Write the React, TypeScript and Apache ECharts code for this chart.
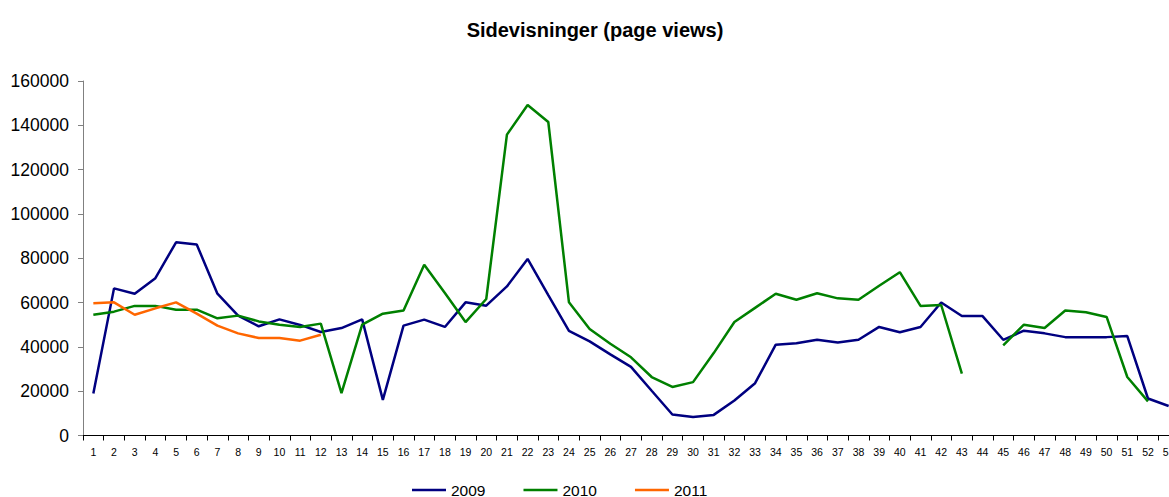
import React, { useEffect, useRef } from "react";
import * as echarts from "echarts";

const weeks = [
  "1","2","3","4","5","6","7","8","9","10","11","12","13","14","15","16","17","18","19","20",
  "21","22","23","24","25","26","27","28","29","30","31","32","33","34","35","36","37","38","39","40",
  "41","42","43","44","45","46","47","48","49","50","51","52","53",
];

const views2009 = [
  19000, 66400, 64000, 71000, 87200, 86200, 64000, 54100, 49300, 52400,
  49900, 46700, 48500, 52400, 16100, 49600, 52300, 49000, 60100, 58600,
  67300, 79700, 63400, 47200, 42500, 36600, 31000, 20200, 9500, 8300,
  9300, 15800, 23600, 41000, 41600, 43200, 42000, 43200, 49000, 46600,
  49000, 60000, 53900, 53900, 43200, 47300, 46100, 44400, 44400, 44400,
  44900, 16700, 13300,
];

const views2010 = [
  54500, 55900, 58500, 58500, 56800, 56800, 52900, 54100, 51500, 50000,
  49000, 50500, 19100, 50000, 55000, 56400, 77100, 64300, 51200, 61600,
  135800, 149200, 141500, 60100, 48100, 41400, 35300, 26400, 21900, 24100,
  37200, 51200, 57600, 64000, 61300, 64200, 61900, 61300, 67600, 73700,
  58500, 58900, 27900, null, 40700, 50000, 48500, 56400, 55600, 53500,
  26400, 15400, null,
];

const views2011 = [
  59700, 60100, 54500, 57400, 60100, 55000, 49600, 46100, 44000, 44000,
  42800, 45500,
];

const seriesNames = ["2009", "2010", "2011"];
const seriesColors = ["#000080", "#008000", "#FF6600"];
const yTicks = { min: 0, max: 160000, interval: 20000 };

export default function App() {
  const ref = useRef<HTMLDivElement>(null);

  useEffect(() => {
    if (!ref.current) return;
    const chart = echarts.init(ref.current, undefined, { renderer: "svg" });
    const font = "'Liberation Sans', Arial, sans-serif";
    const dataSets = [views2009, views2010, views2011];
    chart.setOption({
      animation: false,
      backgroundColor: "#ffffff",
      textStyle: { fontFamily: font },
      title: {
        text: "Sidevisninger (page views)",
        left: "center",
        top: 15,
        textStyle: { fontFamily: font, fontSize: 20, fontWeight: "bold", color: "#000" },
      },
      legend: {
        data: seriesNames,
        left: 407,
        top: 477,
        icon: "rect",
        itemWidth: 34,
        itemHeight: 2.5,
        itemGap: 38,
        textStyle: { fontFamily: font, fontSize: 15.5, color: "#000" },
      },
      grid: { left: 83, top: 81, width: 1096, height: 354.5, containLabel: false },
      xAxis: {
        type: "category",
        data: weeks,
        boundaryGap: true,
        axisLine: { lineStyle: { color: "#000", width: 1 } },
        axisTick: { show: true, length: 5, lineStyle: { color: "#000" }, interval: 0 },
        axisLabel: { interval: 0, fontSize: 10.5, color: "#000", margin: 11, fontFamily: font },
        splitLine: { show: false },
      },
      yAxis: {
        type: "value",
        min: yTicks.min,
        max: yTicks.max,
        interval: yTicks.interval,
        axisLine: { show: true, lineStyle: { color: "#808080", width: 1 } },
        axisTick: { show: true, length: 5, lineStyle: { color: "#808080" } },
        axisLabel: {
          fontSize: 17.5,
          color: "#000",
          margin: 14,
          fontFamily: font,
          formatter: (v: number) => String(v),
        },
        splitLine: { show: false },
      },
      series: seriesNames.map((name, i) => ({
        name,
        type: "line",
        data: dataSets[i],
        symbol: "none",
        showSymbol: false,
        connectNulls: false,
        color: seriesColors[i],
        itemStyle: { color: seriesColors[i] },
        lineStyle: { color: seriesColors[i], width: 2.5 },
      })),
    });
    return () => chart.dispose();
  }, []);

  return (
    <div style={{ position: "absolute", left: 0, top: 0, width: 1169, height: 497, overflow: "hidden", background: "#fff" }}>
      <div ref={ref} style={{ width: 1190, height: 497 }} />
    </div>
  );
}
